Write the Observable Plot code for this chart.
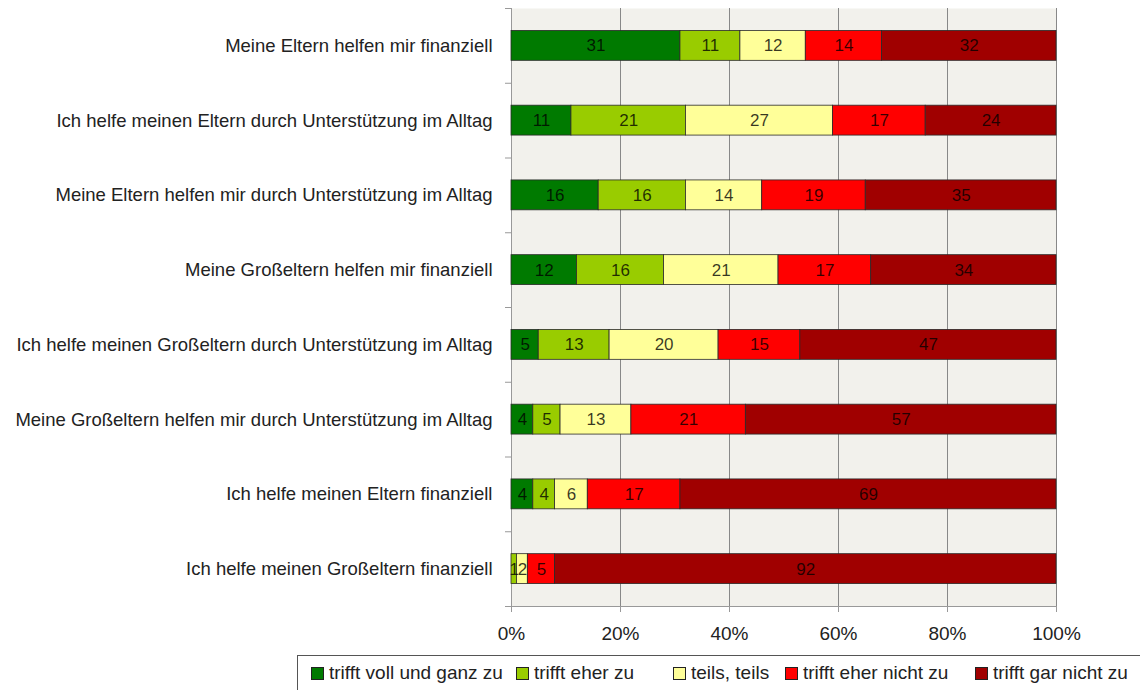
<!DOCTYPE html>
<html><head><meta charset="utf-8">
<script src="https://cdn.jsdelivr.net/npm/d3@7"></script>
<script src="https://cdn.jsdelivr.net/npm/@observablehq/plot@0.6"></script>
<style>
body{margin:0;background:#fff;font-family:"Liberation Sans Narrow","Liberation Sans",sans-serif;}
#chart{position:absolute;left:0;top:0;}
#legend{position:absolute;left:297px;top:655px;width:880px;height:38px;border:1px solid #555;box-sizing:border-box;font-size:19px;color:#222;}
.item{position:absolute;top:0;height:34px;display:flex;align-items:center;white-space:nowrap;}
.sw{width:11px;height:11px;border:1px solid #222;margin-right:5px;}
</style></head><body>
<div id="chart"></div><div id="legend"></div>
<script>
const categories = [
  "Meine Eltern helfen mir finanziell",
  "Ich helfe meinen Eltern durch Unterstützung im Alltag",
  "Meine Eltern helfen mir durch Unterstützung im Alltag",
  "Meine Großeltern helfen mir finanziell",
  "Ich helfe meinen Großeltern durch Unterstützung im Alltag",
  "Meine Großeltern helfen mir durch Unterstützung im Alltag",
  "Ich helfe meinen Eltern finanziell",
  "Ich helfe meinen Großeltern finanziell"
];
const series = ["trifft voll und ganz zu", "trifft eher zu", "teils, teils", "trifft eher nicht zu", "trifft gar nicht zu"];
const colors = ["#007A00", "#99CC00", "#FFFF99", "#FF0000", "#A00000"];
const voll      = [31, 11, 16, 12,  5,  4,  4,  0];
const eher      = [11, 21, 16, 16, 13,  5,  4,  1];
const teils     = [12, 27, 14, 21, 20, 13,  6,  2];
const eherNicht = [14, 17, 19, 17, 15, 21, 17,  5];
const garNicht  = [32, 24, 35, 34, 47, 57, 69, 92];
const xTicks = [0, 20, 40, 60, 80, 100];

const seriesValues = [voll, eher, teils, eherNicht, garNicht];
const data = [];
categories.forEach((c, i) => {
  series.forEach((s, j) => data.push({category: c, series: s, value: seriesValues[j][i]}));
});

const W = 1140, H = 650;
const mT = 8, mB = 44;
const step = (H - mT - mB) / categories.length;

const chart = Plot.plot({
  width: W, height: H,
  marginLeft: 511, marginRight: 84, marginTop: mT, marginBottom: mB,
  style: {fontFamily: '"Liberation Sans Narrow","Liberation Sans",sans-serif', background: "transparent"},
  x: {domain: [0, 100], ticks: xTicks, tickFormat: d => d + "%"},
  y: {domain: categories, paddingInner: 0.6, paddingOuter: 0.3, round: false},
  color: {domain: series, range: colors},
  marks: [
    Plot.frame({fill: "#F2F1EC", stroke: null}),
    Plot.gridX(xTicks.slice(1), {stroke: "#888", strokeOpacity: 1, strokeWidth: 1}),
    Plot.ruleX([0], {stroke: "#999"}),
    Plot.ruleY(categories, {y: d => d, x1: -1.1, x2: 0, dy: -step / 2, stroke: "#999", clip: false}),
    Plot.ruleY([categories[categories.length - 1]], {x1: -1.1, x2: 100, dy: step / 2, stroke: "#999"}),
    Plot.barX(data, Plot.stackX({x: "value", y: "category", fill: "series", z: "series", stroke: "#2a2a2a", strokeWidth: 0.8})),
    Plot.text(data.filter(d => d.value > 0), Plot.stackX({x: "value", y: "category", z: "series", text: d => String(d.value), fill: "#000", fillOpacity: 0.78, fontSize: 17})),
    Plot.axisX({ticks: xTicks, tickFormat: d => d + "%", tickSize: 6, tickPadding: 14, fontSize: 19, stroke: "#999", fill: "#222", label: null}),
    Plot.axisY({tickSize: 0, tickPadding: 19, fontSize: 18.5, fill: "#222", label: null})
  ]
});
document.getElementById("chart").appendChild(chart);

const legendX = [13, 218, 375, 487, 677];
const legend = document.getElementById("legend");
series.forEach((s, j) => {
  const it = document.createElement("div");
  it.className = "item";
  it.style.left = legendX[j] + "px";
  it.innerHTML = `<span class="sw" style="background:${colors[j]}"></span><span>${s}</span>`;
  legend.appendChild(it);
});
</script>
</body></html>
